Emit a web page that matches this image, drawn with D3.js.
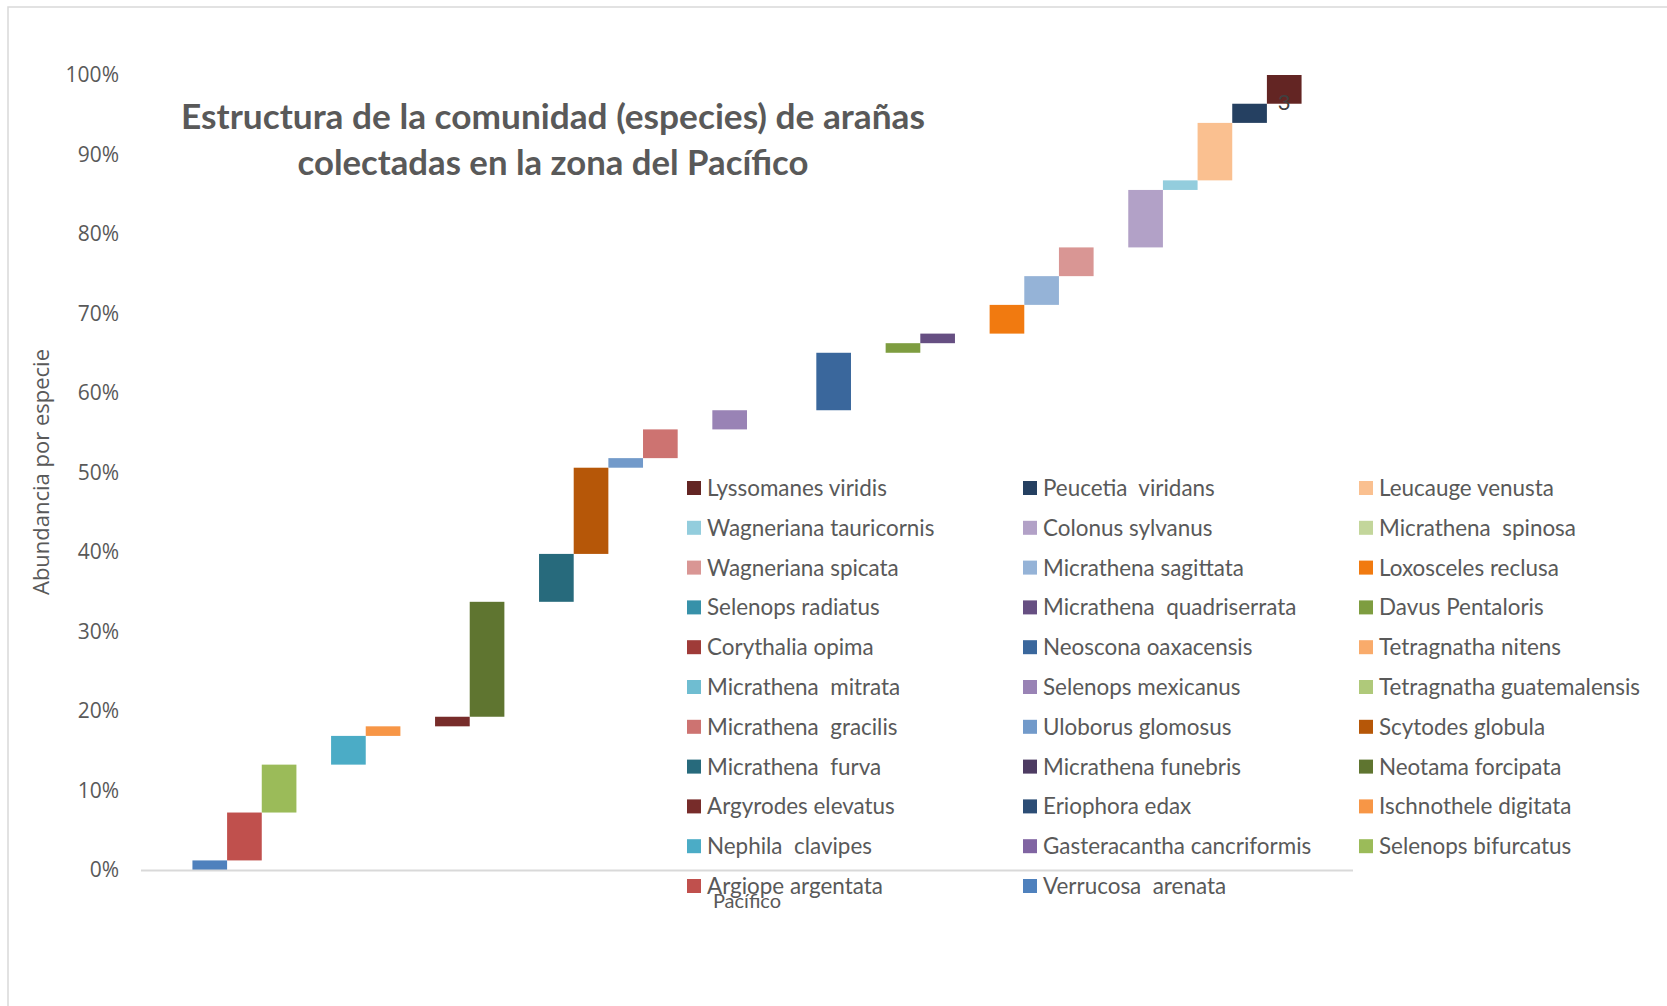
<!DOCTYPE html>
<html>
<head>
<meta charset="utf-8">
<script src="https://cdn.jsdelivr.net/npm/d3@7"></script>
<style>
  html, body { margin: 0; padding: 0; background: #ffffff; }
  svg { display: block; }
  text { white-space: pre; }
</style>
</head>
<body>
<svg id="chart" width="1667" height="1006"></svg>
<script>
// ---- Data (stacking order, bottom to top) ----
const species = [
  "Verrucosa  arenata", "Argiope argentata", "Selenops bifurcatus", "Gasteracantha cancriformis",
  "Nephila  clavipes", "Ischnothele digitata", "Eriophora edax", "Argyrodes elevatus",
  "Neotama forcipata", "Micrathena funebris", "Micrathena  furva", "Scytodes globula",
  "Uloborus glomosus", "Micrathena  gracilis", "Tetragnatha guatemalensis", "Selenops mexicanus",
  "Micrathena  mitrata", "Tetragnatha nitens", "Neoscona oaxacensis", "Corythalia opima",
  "Davus Pentaloris", "Micrathena  quadriserrata", "Selenops radiatus", "Loxosceles reclusa",
  "Micrathena sagittata", "Wagneriana spicata", "Micrathena  spinosa", "Colonus sylvanus",
  "Wagneriana tauricornis", "Leucauge venusta", "Peucetia  viridans", "Lyssomanes viridis"
];
const counts = [1, 5, 5, 0, 3, 1, 0, 1, 12, 0, 5, 9, 1, 3, 0, 2, 0, 0, 6, 0, 1, 1, 0, 3, 3, 3, 0, 6, 1, 6, 2, 3];
const colors = [
  "#4F81BD", "#C0504D", "#9BBB59", "#8064A2", "#4BACC6", "#F79646", "#2C4D75", "#772C2A",
  "#5F7530", "#4D3B62", "#276A7C", "#B65708", "#729ACA", "#CD7371", "#AFC97A", "#9983B5",
  "#6FBDD1", "#F9AB6B", "#3A679C", "#9F3B38", "#7E9D40", "#664F82", "#3791A9", "#F17A10",
  "#95B3D7", "#D99694", "#C3D69B", "#B2A1C7", "#93CDDD", "#FAC090", "#254061", "#632523"
];
const labeledSeries = ["Lyssomanes viridis"];
const category = "Pacífico";
const yTicks = [0, 0.1, 0.2, 0.3, 0.4, 0.5, 0.6, 0.7, 0.8, 0.9, 1.0];
const titleLines = ["Estructura de la comunidad (especies) de arañas", "colectadas en la zona del Pacífico"];
const yAxisTitle = "Abundancia por especie";

// ---- Derived ----
const total = d3.sum(counts);
let cum = 0;
const bars = species.map((s, i) => {
  const start = cum / total;
  cum += counts[i];
  return { name: s, count: counts[i], start, end: cum / total, color: colors[i] };
});

const svg = d3.select("#chart");
const gray = "#595959";

// chart border
svg.append("rect")
  .attr("x", 8).attr("y", 7).attr("width", 1700).attr("height", 1100)
  .attr("fill", "#ffffff").attr("stroke", "#d9d9d9").attr("stroke-width", 1.5);

const x = d3.scaleBand().domain(species).range([141, 1353]).paddingInner(0).paddingOuter(1.484);
const y = d3.scaleLinear().domain([0, 1]).range([870, 75]);

// y axis tick labels
const yAxis = d3.axisLeft(y).tickValues(yTicks).tickFormat(d3.format(".0%")).tickSize(0).tickPadding(0);
const gy = svg.append("g").attr("transform", "translate(119,0)").call(yAxis);
gy.select(".domain").remove();
gy.selectAll("text")
  .attr("fill", gray)
  .style("font-family", "'Open Sans', sans-serif")
  .style("font-size", "21px");

// y axis title
svg.append("text")
  .attr("transform", "translate(49,472) rotate(-90)")
  .attr("text-anchor", "middle")
  .attr("fill", gray)
  .style("font-family", "'Open Sans', sans-serif")
  .style("font-size", "22px")
  .text(yAxisTitle);

// bars
svg.append("g").selectAll("rect")
  .data(bars.filter(d => d.count > 0))
  .join("rect")
  .attr("x", d => x(d.name))
  .attr("width", x.bandwidth())
  .attr("y", d => y(d.end))
  .attr("height", d => y(d.start) - y(d.end))
  .attr("fill", d => d.color);

// data labels
svg.append("g").selectAll("text")
  .data(bars.filter(d => labeledSeries.includes(d.name)))
  .join("text")
  .attr("x", d => x(d.name) + x.bandwidth() / 2)
  .attr("y", d => y(d.start) - 1.5)
  .attr("dy", "0.35em")
  .attr("text-anchor", "middle")
  .attr("fill", "#404040")
  .style("font-family", "Lato, 'Open Sans', sans-serif")
  .style("font-size", "22px")
  .text(d => d.count);

// x axis line
svg.append("line")
  .attr("x1", 141).attr("x2", 1353)
  .attr("y1", y(0) + 0.5).attr("y2", y(0) + 0.5)
  .attr("stroke", "#d9d9d9").attr("stroke-width", 1.8);

// category label
svg.append("text")
  .attr("x", 747).attr("y", 901)
  .attr("dy", "0.35em")
  .attr("text-anchor", "middle")
  .attr("fill", gray)
  .style("font-family", "Lato, sans-serif")
  .style("font-size", "20px")
  .text(category);

// title
function fit(sel, target) {
  const w = sel.node().getComputedTextLength();
  const fs = parseFloat(sel.style("font-size"));
  sel.style("font-size", (fs * target / w) + "px");
}
const titleTargets = [744, 511];
const titleBaselines = [129, 175];
titleLines.forEach((t, i) => {
  const tt = svg.append("text")
    .attr("x", 553).attr("y", titleBaselines[i])
    .attr("text-anchor", "middle")
    .attr("fill", gray)
    .style("font-family", "Lato, sans-serif")
    .style("font-weight", "bold")
    .style("font-size", "32px")
    .text(t);
  fit(tt, titleTargets[i]);
});

// legend (reverse order, 3 columns)
const legendItems = bars.slice().reverse();
const colX = [687, 1023, 1359];
const rowY0 = 488, rowStep = 39.8;
const lg = svg.append("g");
const items = lg.selectAll("g").data(legendItems).join("g")
  .attr("transform", (d, i) => `translate(${colX[i % 3]},${rowY0 + Math.floor(i / 3) * rowStep})`);
items.append("rect")
  .attr("x", 0).attr("y", -7).attr("width", 14).attr("height", 14)
  .attr("fill", d => d.color);
const legendTexts = items.append("text")
  .attr("x", 20).attr("dy", "0.36em")
  .attr("fill", gray)
  .style("font-family", "Lato, sans-serif")
  .style("font-size", "20px")
  .text(d => d.name);
// fit legend font size using reference widths
const refs = { "Lyssomanes viridis": 179, "Gasteracantha cancriformis": 267, "Tetragnatha guatemalensis": 264 };
let ratios = [];
legendTexts.each(function(d) {
  if (refs[d.name]) ratios.push(refs[d.name] / this.getComputedTextLength());
});
const lfs = 20 * d3.mean(ratios);
legendTexts.style("font-size", lfs + "px");
</script>
</body>
</html>
